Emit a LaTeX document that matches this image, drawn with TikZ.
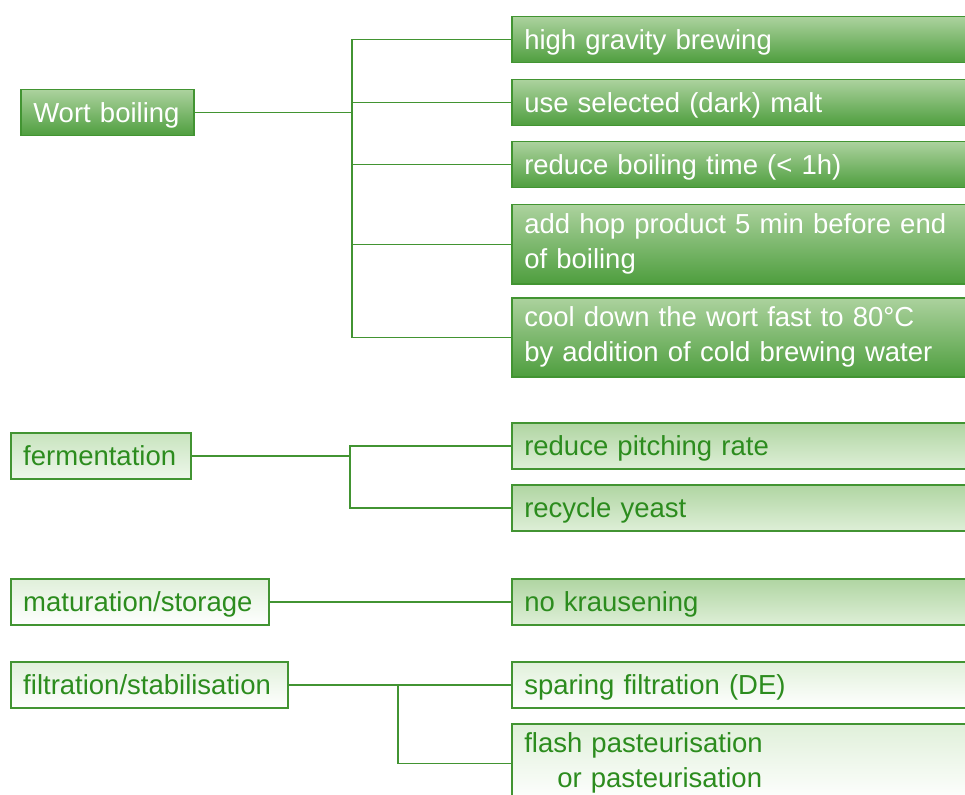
\documentclass[tikz,border=0pt]{standalone}
\usepackage{fontspec}
\setmainfont{Liberation Sans}
\usetikzlibrary{positioning}
\definecolor{boxline}{RGB}{66,148,50}
\definecolor{leaf}{RGB}{44,140,30}
\definecolor{darktop}{RGB}{172,210,158}
\definecolor{darkbot}{RGB}{78,158,62}
\definecolor{midtop}{RGB}{176,213,162}
\definecolor{midbot}{RGB}{222,239,215}
\definecolor{softtop}{RGB}{200,228,190}
\definecolor{softbot}{RGB}{238,247,235}
\definecolor{paletop}{RGB}{224,240,218}

\begin{document}
\begin{tikzpicture}[x=1pt,y=-1pt,
  box/.style={draw=boxline,line width=1.5pt,anchor=north west,inner xsep=12.5pt,inner ysep=0pt,
    minimum height=46pt,text height=20pt,text depth=1pt,align=left,
    font=\fontsize{27.5}{34.5}\selectfont},
  dark/.style={box,top color=darktop,bottom color=darkbot,text=white},
  mid/.style={box,top color=midtop,bottom color=midbot,text=leaf},
  soft/.style={box,top color=softtop,bottom color=softbot,text=leaf},
  pale/.style={box,top color=paletop,bottom color=white,text=leaf},
  wide/.style={text width=445pt},
  twoline/.style={minimum height=79pt,text depth=41pt},
  link/.style={draw=boxline,line width=1.5pt},
  fork/.style={link,to path={|- (\tikztotarget)}}]

  \useasboundingbox (0,0) rectangle (965,794);
  \clip (0,0) rectangle (965,794);

  % wort boiling
  \node[dark,text width=148pt] (wort) at (20,89) {Wort boiling};
  \node[dark,wide] (hg) at (511,16) {high gravity brewing};
  \node[dark,wide] (malt) at (511,79) {use selected (dark) malt};
  \node[dark,wide] (time) at (511,141) {reduce boiling time (< 1h)};
  \node[dark,wide,twoline] (hop) at (511,204) {add hop product 5 min before end\\of boiling};
  \node[dark,wide,twoline] (cool) at (511,297) {cool down the wort fast to 80°C\\by addition of cold brewing water};
  \coordinate (jw) at (352,0 |- wort.east);
  \path (wort) edge[link] (jw);
  \path (jw) edge[fork] (hg.west) edge[fork] (malt.west) edge[fork] (time.west)
             edge[fork] (hop.west) edge[fork] (cool.west);

  % fermentation
  \node[soft,text width=155pt] (ferm) at (10,432) {fermentation};
  \node[mid,wide] (pitch) at (511,422) {reduce pitching rate};
  \node[mid,wide] (yeast) at (511,484) {recycle yeast};
  \coordinate (jf) at (350,0 |- ferm.east);
  \path (ferm) edge[link] (jf);
  \path (jf) edge[fork] (pitch.west) edge[fork] (yeast.west);

  % maturation
  \node[pale,text width=233pt] (mat) at (10,578) {maturation/storage};
  \node[mid,wide] (kraus) at (511,578) {no krausening};
  \path (mat) edge[link] (kraus);

  % filtration
  \node[pale,text width=252pt] (filt) at (10,661) {filtration/stabilisation};
  \node[pale,wide] (de) at (511,661) {sparing filtration (DE)};
  \node[pale,wide,twoline] (flash) at (511,723) {flash pasteurisation\\\hspace*{1.2em}or pasteurisation};
  \coordinate (jd) at (398,0 |- filt.east);
  \path (filt) edge[link] (jd);
  \path (jd) edge[fork] (de.west) edge[fork] (flash.west);

\end{tikzpicture}
\end{document}
